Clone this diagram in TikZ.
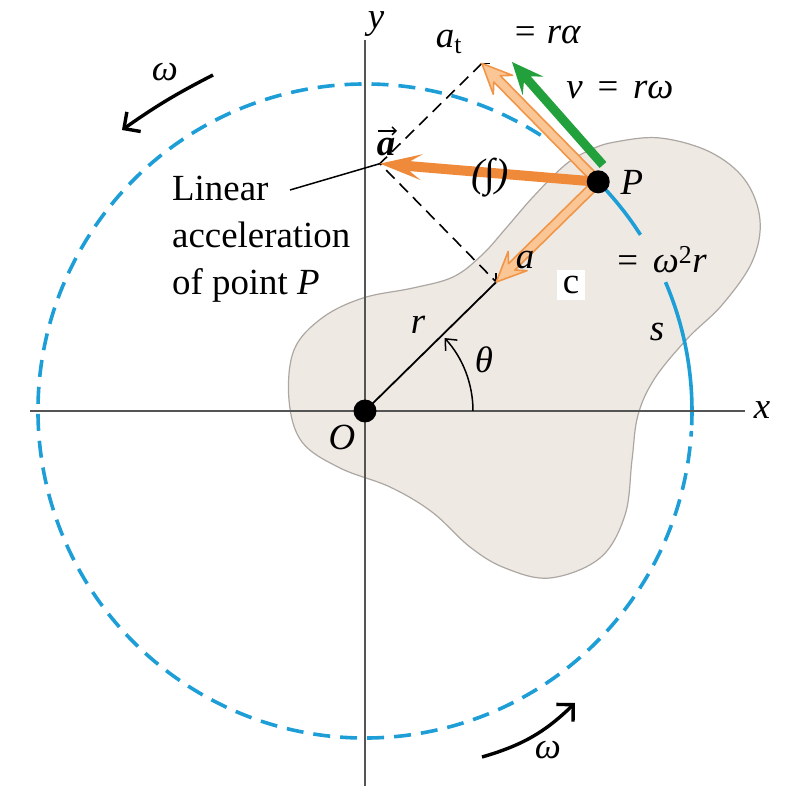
\documentclass[tikz,border=0pt]{standalone}
\usepackage{fontspec}
\setmainfont{Liberation Serif}
\usetikzlibrary{calc,arrows.meta}
\definecolor{circblue}{RGB}{30,158,215}
\definecolor{blobfill}{RGB}{239,233,228}
\definecolor{blobline}{RGB}{172,167,162}
\definecolor{axisgray}{RGB}{85,85,85}
\definecolor{orangeA}{RGB}{239,138,58}
\definecolor{peach}{RGB}{250,198,150}
\definecolor{orangeB}{RGB}{240,150,72}
\definecolor{vgreen}{RGB}{34,160,60}
\newcommand{\FatArrow}[6]{%
 \coordinate (fa-h) at ($(#3)!#5!(#2)$);
 \coordinate (fa-n) at ($(#3)!{0.72*#5}!(#2)$);
 \path[#1] ($(#2)!#4!90:(#3)$) -- ($(fa-n)!#4!90:(#3)$) -- ($(fa-h)!#6!90:(#3)$) -- (#3) -- ($(fa-h)!#6!-90:(#3)$) -- ($(fa-n)!#4!-90:(#3)$) -- ($(#2)!#4!-90:(#3)$) -- cycle;}
\tikzset{
  circ/.style={draw=circblue, line width=3.6bp},
  axisline/.style={draw=axisgray, line width=2.4bp},
  lbl/.style={inner sep=0pt},
  dashpar/.style={draw=black, line width=1.6bp, dash pattern=on 12bp off 7bp},
  omegaarrow/.style={line width=3.4bp, -{Straight Barb[length=12bp,width=24bp]}},
  dot/.style={circle, fill=black, inner sep=0pt, minimum size=23bp},
}
\begin{document}
\begin{tikzpicture}[x=1bp,y=1bp, font=\fontsize{37}{44}\selectfont]
\useasboundingbox (-365,-375) rectangle (420,411);
% body
\begin{scope}[shift={(-365,411)},yscale=-1]
\draw[fill=blobfill, draw=blobline, line width=1.2bp] plot[smooth cycle, tension=0.6] coordinates {
(615,142) (660,138) (710,152) (745,180) (760,220) (752,262) (722,305) (688,338) (655,378) (638,415) (632,460) (625,515) (600,558) (550,578) (505,568) (470,547) (432,512) (390,487) (340,468) (302,442) (289,400) (294,350) (322,318) (363,298) (413,288) (453,277) (482,255) (507,227) (533,197) (565,165) (590,150)};
\end{scope}
% key points
\coordinate (O) at (0,0);
\coordinate (P) at (44.5:327);
\coordinate (atTip) at ($(P)+(134.5:166)$);
\coordinate (acTip) at ($(P)+(224.5:143)$);
\coordinate (aTip) at ($(atTip)+(224.5:143)$);
\coordinate (vStart) at (238,246);
\coordinate (vTip) at (147,349);
% circle
\draw[circ, dash pattern=on 17bp off 10bp] (57.5:327) arc[start angle=57.5, end angle=356.5, radius=327];
\draw[circ] (44.5:327) arc[start angle=44.5, end angle=32.6, radius=327];
\draw[circ] (23.2:327) arc[start angle=23.2, end angle=-2.5, radius=327];
% axes
\coordinate (xL) at (-335,0);
\coordinate (xR) at (380,0);
\coordinate (yB) at (0,-375);
\coordinate (yT) at (0,371);
\draw[axisline] (xL) -- (xR);
\draw[axisline] (yB) -- (yT);
% radius and angle
\draw[line width=1.8bp] (O) -- (acTip);
\draw[line width=1.5bp, -{Straight Barb[length=9bp,width=16bp]}] (108,0) arc[start angle=0, end angle=42.5, radius=108];
% dashed construction
\draw[dashpar] (atTip) -- (aTip) -- (acTip);
\draw[line width=1.5bp] (atTip) -- ++(8,0);
\draw[line width=1.5bp] (acTip) -- ++(0,9);
% arrows
\FatArrow{fill=vgreen}{vStart}{vTip}{4.5bp}{32bp}{14bp}
\FatArrow{fill=peach, draw=orangeB, line width=1.6bp, line join=round}{P}{atTip}{4.5bp}{30bp}{13.5bp}
\FatArrow{fill=peach, draw=orangeB, line width=1.6bp, line join=round}{P}{acTip}{4.5bp}{30bp}{13.5bp}
\FatArrow{fill=orangeA}{P}{aTip}{5bp}{42bp}{13bp}
% dots
\node[dot] (Pdot) at (P) {};
\node[dot] (Odot) at (O) {};
% leader
\coordinate (leadStart) at (-75,221);
\draw[line width=1.5bp] (leadStart) -- (aTip);
% omega arrows
\coordinate (w1s) at (-152,336);
\coordinate (w1e) at (-243,281);
\coordinate (w2s) at (117,-346);
\coordinate (w2e) at (210,-292);
\draw[omegaarrow] (w1s) to[bend right=4] (w1e);
\draw[omegaarrow] (w2s) to[bend right=14] (w2e);
% labels
\node[lbl] (ylab) at (11,387) {\textit{y}};
\node[lbl] (xlab) at (397,1) {\textit{x}};
\node[lbl] (atlab) at (84,369) {\textit{a}\textsubscript{t}};
\node[lbl] (atval) at (183,376) {=\hspace{0.3em}\textit{rα}};
\node[lbl] (vlab) at (255,321) {\textit{v}\hspace{0.4em}=\hspace{0.4em}\textit{rω}};
\node[lbl] (alab) at (21,264) {\textbf{\textit{a}}};
\coordinate (avL) at ($(alab.north)+(-8,7)$);
\coordinate (avR) at ($(alab.north)+(11,7)$);
\draw[line width=1.4bp, -{Straight Barb[length=4bp,width=8bp]}] (avL) -- (avR);
\node[lbl, font=\fontsize{40}{40}\selectfont] (intlab) at (125,233) {\textit{(∫)}};
\node[lbl] (Plab) at (267,229) {\textit{P}};
\node[lbl] (aclab) at (160,151) {\textit{a}};
\node[lbl, fill=white, inner sep=6bp] (cclab) at (206,126) {c};
\node[lbl] (acval) at (297,151) {=\hspace{0.4em}\textit{ω}\textsuperscript{2}\textit{r}};
\node[lbl] (slab) at (292,79) {\textit{s}};
\node[lbl] (rlab) at (53,86) {\textit{r}};
\node[lbl] (thlab) at (119,51) {\textit{θ}};
\node[lbl] (Olab) at (-23,-26) {\textit{O}};
\node[lbl] (w1lab) at (-200,339) {\textit{ω}};
\node[lbl] (w2lab) at (183,-339) {\textit{ω}};
\node[lbl, anchor=north west, align=left, font=\fontsize{37}{47}\selectfont] (linlab) at (-193,235) {Linear\\acceleration\\of point \textit{P}};
\end{tikzpicture}
\end{document}
